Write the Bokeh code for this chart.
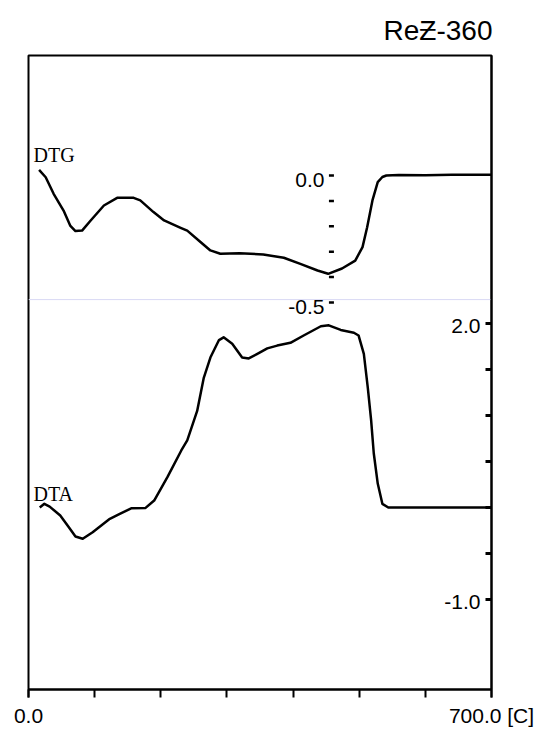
from bokeh.plotting import figure
from bokeh.models import Range1d, LinearAxis, FixedTicker, Span, ColumnDataSource
from bokeh.core.properties import value
from bokeh.embed import file_html
from bokeh.resources import INLINE

# ---------------- data ----------------
title_text = "ReƵ-360"

x_ticks = [0, 100, 200, 300, 400, 500, 600, 700]
x_label_pos = [0, 700]
x_label_text = ["0.0", "700.0 [C]"]

dtg_ticks = [0.0, -0.1, -0.2, -0.3, -0.4, -0.5]
dtg_label_pos = [0.0, -0.5]
dtg_label_text = ["0.0", "-0.5"]

dta_ticks = [2.0, 1.5, 1.0, 0.5, 0.0, -0.5, -1.0]
dta_label_pos = [2.0, -1.0]
dta_label_text = ["2.0", "-1.0"]

dtg_temp = [16, 26, 38, 53, 63, 71, 81, 94, 114, 134, 159, 169, 189, 205, 230, 240,
            260, 275, 290, 319, 355, 386, 411, 437, 453, 474, 494, 505, 512, 520, 528,
            535, 541, 560, 600, 640, 680, 700]
dtg_value = [0.022, -0.007, -0.072, -0.138, -0.197, -0.219, -0.217, -0.177, -0.118,
             -0.088, -0.088, -0.098, -0.144, -0.177, -0.206, -0.217, -0.262, -0.295,
             -0.308, -0.306, -0.311, -0.324, -0.348, -0.374, -0.387, -0.366, -0.335,
             -0.282, -0.204, -0.098, -0.026, -0.006, 0.0, 0.002, 0.001, 0.003, 0.003, 0.003]

dta_temp = [17, 24, 32, 48, 61, 71, 82, 97, 123, 138, 156, 177, 190, 210, 231, 240,
            255, 265, 275, 288, 295, 308, 323, 333, 346, 361, 376, 396, 416, 442, 454,
            472, 492, 499, 507, 513, 518, 522, 528, 535, 544, 600, 650, 700]
dta_value = [0.0, 0.04, 0.01, -0.087, -0.214, -0.315, -0.34, -0.268, -0.123, -0.069,
             -0.007, -0.004, 0.076, 0.33, 0.62, 0.73, 1.05, 1.41, 1.63, 1.82, 1.85, 1.78,
             1.63, 1.62, 1.67, 1.73, 1.76, 1.79, 1.87, 1.97, 1.98, 1.93, 1.90, 1.87, 1.67,
             1.30, 0.95, 0.59, 0.26, 0.04, 0.0, 0.0, 0.0, 0.0]

series_names = ["DTG", "DTA"]

# ---------------- layout / style ----------------
SANS = "Liberation Sans"
SERIF = "Liberation Serif"
DTG_AXIS_X = 458          # temperature where the DTG scale is drawn
X_MIN, X_MAX = 0, 700

p = figure(width=535, height=732,
           x_range=Range1d(X_MIN, X_MAX),
           y_range=Range1d(-1.978, 4.913),
           output_backend="svg", toolbar_location=None,
           x_axis_location=None, y_axis_location=None,
           min_border_left=28, min_border_right=44,
           min_border_top=55, min_border_bottom=43,
           title=title_text)
p.extra_y_ranges = {"dtg": Range1d(-2.0236, 0.4724)}

p.background_fill_color = "white"
p.border_fill_color = "white"
p.outline_line_color = "black"
p.outline_line_width = 2
p.xgrid.visible = False
p.ygrid.visible = False

p.title.align = "right"
p.title.text_font = SANS
p.title.text_font_style = "normal"
p.title.text_font_size = "28px"
p.title.text_color = "black"
p.title.standoff = 20
p.title.offset = -1

# faint scan line artefact
p.add_layout(Span(location=2.26, dimension="width", line_color="#dadaf5",
                  line_width=1, level="underlay"))

# bottom temperature axis
xaxis = LinearAxis(ticker=FixedTicker(ticks=x_label_pos, minor_ticks=x_ticks),
                   major_label_overrides=dict(zip(x_label_pos, x_label_text)))
xaxis.axis_line_color = "black"
xaxis.axis_line_width = 2
xaxis.major_tick_out = 8
xaxis.major_tick_in = 0
xaxis.major_tick_line_width = 2
xaxis.major_tick_line_color = "black"
xaxis.minor_tick_out = 8
xaxis.minor_tick_in = 0
xaxis.minor_tick_line_width = 2
xaxis.minor_tick_line_color = "black"
xaxis.major_label_standoff = 6
xaxis.major_label_text_font = SANS
xaxis.major_label_text_font_size = "21px"
xaxis.major_label_text_color = "black"
p.add_layout(xaxis, "below")

# DTA scale on the right frame edge
dta_axis = LinearAxis(ticker=FixedTicker(ticks=[], minor_ticks=dta_ticks))
dta_axis.axis_line_color = "black"
dta_axis.axis_line_width = 2
dta_axis.minor_tick_in = 6
dta_axis.minor_tick_out = 0
dta_axis.minor_tick_line_width = 3
dta_axis.minor_tick_line_color = "black"
dta_axis.major_tick_line_color = None
p.add_layout(dta_axis, "right")

dta_lab = ColumnDataSource(dict(x=[X_MAX] * len(dta_label_pos), y=dta_label_pos,
                                t=dta_label_text))
p.text(x="x", y="y", text="t", source=dta_lab, text_align="right",
       text_baseline="alphabetic", x_offset=-11, y_offset=2,
       text_font=value(SANS), text_font_size="21px", text_color="black")

# DTG scale drawn inside the plot
dtg_tk = ColumnDataSource(dict(x=[DTG_AXIS_X] * len(dtg_ticks), y=dtg_ticks))
p.dash(x="x", y="y", source=dtg_tk, y_range_name="dtg", size=5,
       line_width=2.5, line_color="black")
dtg_lab = ColumnDataSource(dict(x=[DTG_AXIS_X] * len(dtg_label_pos), y=dtg_label_pos,
                                t=dtg_label_text))
p.text(x="x", y="y", text="t", source=dtg_lab, y_range_name="dtg",
       text_align="right", text_baseline="alphabetic", x_offset=-7, y_offset=5,
       text_font=value(SANS), text_font_size="21px", text_color="black")

# curves
p.line(dtg_temp, dtg_value, y_range_name="dtg", line_color="black",
       line_width=2.5, line_join="round")
p.line(dta_temp, dta_value, line_color="black", line_width=2.5, line_join="round")

# series names
p.text(x=[7.6], y=[0.047], text=[series_names[0]], y_range_name="dtg",
       text_align="left", text_baseline="alphabetic", y_offset=-9,
       text_font=value(SERIF), text_font_size="20px", text_color="black")
p.text(x=[7.6], y=[0.054], text=[series_names[1]],
       text_align="left", text_baseline="alphabetic", y_offset=-9,
       text_font=value(SERIF), text_font_size="20px", text_color="black")

open("out.html", "w").write(file_html(p, INLINE))
